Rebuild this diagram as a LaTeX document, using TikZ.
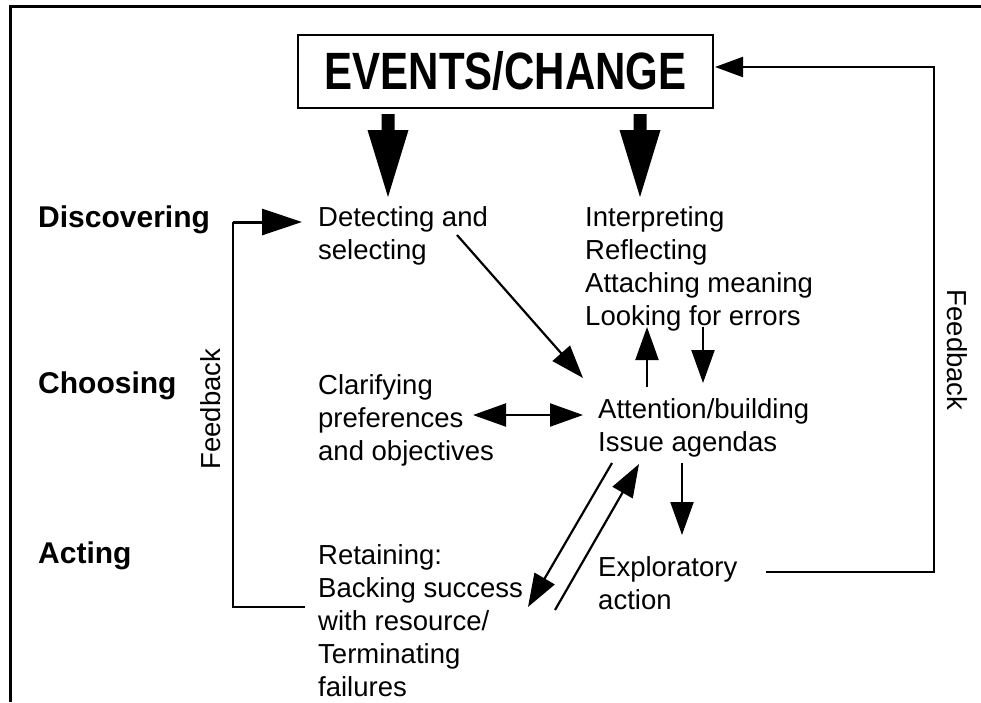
\documentclass[tikz,border=0pt]{standalone}
\usepackage{fontspec}
\setmainfont{Liberation Sans}
\usetikzlibrary{arrows.meta}
\newcommand{\mylines}[1]{\begin{tabular}[t]{@{}l@{}}#1\end{tabular}}
\begin{document}
\begin{tikzpicture}[x=1pt,y=-1pt,
  txt/.style={anchor=base west,inner sep=0pt,font=\fontsize{27.5}{33}\selectfont},
  phase/.style={anchor=base west,inner sep=0pt,font=\fontsize{30}{36}\selectfont\bfseries},
  tip/.style={Triangle[length=33pt,width=23pt]},
  conn/.style={line width=2.2pt,-{Triangle[length=33pt,width=23pt]}},
  fb/.style={line width=2.2pt},
  bigarrow/.style={fill=black,draw=none}]
\useasboundingbox (0,0) rectangle (981,702);
% frame
\draw[line width=3pt] (981,6) -- (10,6) -- (10,702);
% events box
\node[draw,line width=2.2pt,minimum width=415pt,minimum height=73pt,inner sep=0pt] (ev) at (505.5,71.5)
  {\fontsize{42}{48}\selectfont\bfseries\scalebox{1}[1.25]{EVENTS/CHANGE}};
% big arrows
\fill[bigarrow] (381.5,114) -- (394.5,114) -- (394.5,130) -- (408.5,130) -- (388,197) -- (367.5,130) -- (381.5,130) -- cycle;
\fill[bigarrow] (633.5,114) -- (646.5,114) -- (646.5,130) -- (660.5,130) -- (640,197) -- (619.5,130) -- (633.5,130) -- cycle;
% phases
\node[phase] (disc) at (38,227) {Discovering};
\node[phase] (choo) at (38,393) {Choosing};
\node[phase] (act) at (38,563) {Acting};
% texts
\node[txt] (det) at (318,226) {\mylines{Detecting and\\selecting}};
\node[txt] (int) at (585,226) {\mylines{Interpreting\\Reflecting\\Attaching meaning\\Looking for errors}};
\node[txt] (cla) at (318,394) {\mylines{Clarifying\\preferences\\and objectives}};
\node[txt] (att) at (598,418) {\mylines{Attention/building\\Issue agendas}};
\node[txt] (exp) at (598,576) {\mylines{Exploratory\\action}};
\node[txt] (ret) at (318,564) {\mylines{Retaining:\\Backing success\\with resource/\\Terminating\\failures}};
\node[txt,rotate=90,anchor=center] (fbl) at (211,409) {Feedback};
\node[txt,rotate=-90,anchor=center] (fbr) at (957,350) {Feedback};
% coordinates
\coordinate (d1) at (457,235);
\coordinate (a1) at (583,378);
\coordinate (a2) at (647,387);
\coordinate (i1) at (647,327);
\coordinate (i2) at (703,327);
\coordinate (a3) at (703,383);
\coordinate (c1) at (473,415);
\coordinate (a4) at (583,415);
\coordinate (a5) at (682,463);
\coordinate (e1) at (682,535);
\coordinate (a6) at (612,463);
\coordinate (r1) at (528,607);
\coordinate (r2) at (555,610);
\coordinate (a7) at (639,464);
\coordinate (e2) at (766,572);
\coordinate (q1) at (934,572);
\coordinate (q2) at (934,67);
\coordinate (ev1) at (715,67);
\coordinate (r3) at (305,607);
\coordinate (p1) at (233,607);
\coordinate (p2) at (233,222);
\coordinate (d2) at (302,222);
% connectors
\draw[conn] (d1) -- (a1);
\draw[conn] (a2) -- (i1);
\draw[conn] (i2) -- (a3);
\draw[line width=2.2pt,{Triangle[length=33pt,width=23pt]}-{Triangle[length=33pt,width=23pt]}] (c1) -- (a4);
\draw[conn] (a5) -- (e1);
\draw[conn] (a6) -- (r1);
\draw[conn] (r2) -- (a7);
\draw[fb,-{Triangle[length=28pt,width=20pt]}] (e2) -- (q1) -- (q2) -- (ev1);
\draw[fb] (r3) -- (p1) -- (p2);
\draw[line width=3pt,-{Triangle[length=40pt,width=26pt]}] (p2) -- (d2);
\end{tikzpicture}
\end{document}
